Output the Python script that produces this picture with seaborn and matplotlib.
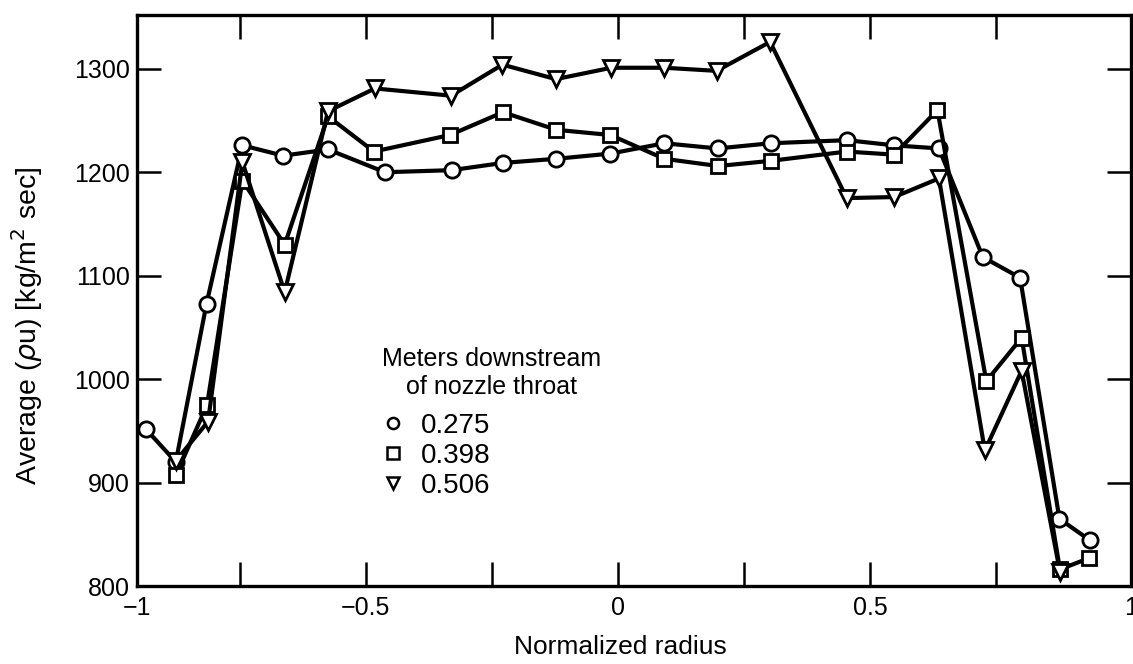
import matplotlib
matplotlib.use("Agg")
import matplotlib.pyplot as plt
from matplotlib.lines import Line2D
import seaborn as sns
import pandas as pd

# ---- data ----
series_labels = ["0.275", "0.398", "0.506"]

x_275 = [-0.937, -0.877, -0.816, -0.745, -0.664, -0.575, -0.462, -0.330, -0.228, -0.122,
         -0.015, 0.092, 0.198, 0.303, 0.454, 0.548, 0.637, 0.724, 0.798, 0.876, 0.937]
y_275 = [952, 920, 1073, 1226, 1216, 1222, 1200, 1202, 1209, 1213,
         1218, 1228, 1223, 1228, 1231, 1226, 1223, 1118, 1098, 865, 844]

x_398 = [-0.877, -0.815, -0.745, -0.661, -0.575, -0.484, -0.333, -0.228, -0.122, -0.015,
         0.092, 0.199, 0.303, 0.454, 0.548, 0.634, 0.731, 0.801, 0.877, 0.935]
y_398 = [907, 975, 1192, 1130, 1254, 1220, 1236, 1258, 1241, 1236,
         1213, 1206, 1211, 1220, 1217, 1260, 998, 1040, 816, 827]

x_506 = [-0.877, -0.813, -0.745, -0.661, -0.575, -0.482, -0.331, -0.229, -0.123, -0.013,
         0.092, 0.196, 0.302, 0.454, 0.548, 0.637, 0.728, 0.801, 0.877]
y_506 = [921, 959, 1210, 1084, 1259, 1281, 1274, 1304, 1290, 1301,
         1301, 1298, 1326, 1175, 1176, 1194, 931, 1008, 814]

y_ticks = [800, 900, 1000, 1100, 1200, 1300]
x_ticks_major = [-0.5, 0, 0.5]
x_ticks_minor = [-0.75, -0.25, 0.25, 0.75]

frames = []
for lab, xs, ys in [(series_labels[0], x_275, y_275),
                    (series_labels[1], x_398, y_398),
                    (series_labels[2], x_506, y_506)]:
    frames.append(pd.DataFrame({"radius": xs, "rhou": ys, "series": lab}))
df = pd.concat(frames, ignore_index=True)

sns.set_theme(style="white")
plt.rcParams["font.family"] = ["Liberation Sans", "DejaVu Sans"]
plt.rcParams["text.color"] = "black"
plt.rcParams["axes.labelcolor"] = "black"

W, H = 1133, 664
fig = plt.figure(figsize=(W / 100, H / 100), dpi=100)
ax = fig.add_axes([137 / W, (H - 586) / H, (1131 - 137) / W, (586 - 15) / H])

markers = {"0.275": "o", "0.398": "s", "0.506": "v"}
msize = {"0.275": 11, "0.398": 10, "0.506": 11}
for lab in series_labels:
    sub = df[df["series"] == lab]
    sns.lineplot(data=sub, x="radius", y="rhou", ax=ax, color="black", linewidth=3.0,
                 marker=markers[lab], markersize=msize[lab], markerfacecolor="white",
                 markeredgecolor="black", markeredgewidth=2.0, sort=False,
                 estimator=None, legend=False)

xmin, xmax = -0.954, 1.018
ax.set_xlim(xmin, xmax)
ax.set_ylim(800, 1352)

for s in ax.spines.values():
    s.set_linewidth(2.4)
    s.set_color("black")
    s.set_visible(True)

ax.set_xticks([xmin] + x_ticks_major + [xmax])
ax.set_xticklabels(["\u22121", "\u22120.5", "0", "0.5", "1"])
ax.set_xticks(x_ticks_minor, minor=True)
ax.set_yticks(y_ticks)
ax.set_yticklabels([str(v) for v in y_ticks])

ax.tick_params(axis="both", which="both", direction="in", length=17, width=1.8,
               color="black", top=True, right=True, bottom=True, left=True,
               labelsize=18, labelcolor="black")
ax.tick_params(axis="x", which="major", pad=7)
ax.tick_params(axis="y", which="major", pad=5)
xt = ax.xaxis.get_major_ticks()
for t in (xt[0], xt[-1]):
    t.tick1line.set_visible(False)
    t.tick2line.set_visible(False)
yt = ax.yaxis.get_major_ticks()
yt[0].tick1line.set_visible(False)
yt[0].tick2line.set_visible(False)

ax.set_xlabel("Normalized radius", fontsize=19, color="black")
ax.xaxis.set_label_coords((620 - 137) / (1131 - 137), -0.085)
ax.set_ylabel("Average ($\\rho$u) [kg/m$^2$ sec]", fontsize=20.5, color="black")
ax.yaxis.set_label_coords(-0.093, 0.455)
ax.grid(False)

handles = [Line2D([], [], linestyle="none", marker=markers[l], markersize=8,
                  markerfacecolor="white", markeredgecolor="black", markeredgewidth=1.8,
                  label=l) for l in series_labels]
leg = ax.legend(handles=handles, title="Meters downstream\nof nozzle throat",
                loc="upper left", bbox_to_anchor=(368 / W, (H - 333) / H),
                bbox_transform=fig.transFigure, frameon=False, fontsize=20,
                title_fontsize=18, handlelength=0.8, handletextpad=0.6,
                labelspacing=0.15, borderpad=0.0, alignment="left")
leg.get_title().set_multialignment("center")
leg.get_title().set_color("black")
for t in leg.get_texts():
    t.set_color("black")
leg._legend_box.sep = 10

fig.savefig("out.png", dpi=100, facecolor="white")
